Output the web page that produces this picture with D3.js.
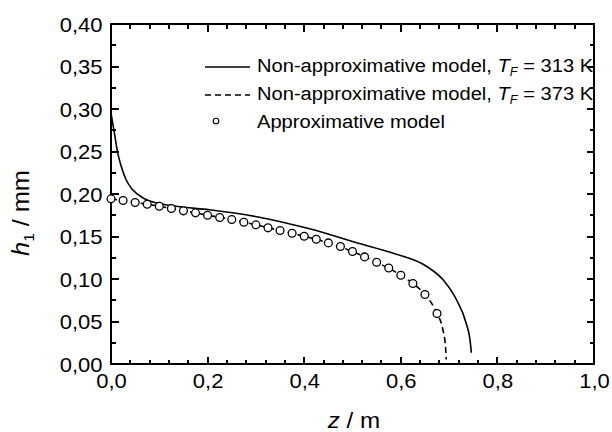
<!DOCTYPE html>
<html>
<head>
<meta charset="utf-8">
<script src="https://cdn.jsdelivr.net/npm/d3@7"></script>
<style>
body { margin: 0; background: #fff; }
text { font-family: "Liberation Sans", Arial, Helvetica, sans-serif; fill: #000; }
</style>
</head>
<body>
<script>
var width = 612,
    height = 432,
    x0 = 111, x1 = 594,
    y0 = 364, y1 = 24,
    sx = 1.1;   // the original lettering is a bit wide

// non-approximative model, T_F = 313 K
var solidZ = [0, 0.007, 0.014, 0.021, 0.031, 0.045, 0.066, 0.094, 0.135, 0.204, 0.307, 0.411, 0.514, 0.583, 0.653, 0.687, 0.715, 0.735, 0.744, 0.746];
var solidH = [0.295, 0.272, 0.248, 0.233, 0.217, 0.205, 0.1955, 0.1896, 0.1855, 0.1815, 0.1727, 0.1590, 0.1418, 0.1305, 0.115, 0.0994, 0.0759, 0.0485, 0.0249, 0.0132];

// non-approximative model, T_F = 373 K
var dashZ = [0, 0.05, 0.1, 0.15, 0.2, 0.25, 0.3, 0.35, 0.4, 0.45, 0.5, 0.55, 0.6, 0.625, 0.65, 0.675, 0.687, 0.6925, 0.694];
var dashH = [0.1943, 0.190, 0.1856, 0.1802, 0.175, 0.170, 0.1637, 0.157, 0.1503, 0.1425, 0.1323, 0.1197, 0.1045, 0.0947, 0.0817, 0.0594, 0.0406, 0.021, 0.0053];

// approximative model
var approxZ = [0, 0.025, 0.05, 0.075, 0.1, 0.125, 0.15, 0.175, 0.2, 0.225, 0.25, 0.275, 0.3, 0.325,
               0.35, 0.375, 0.4, 0.425, 0.45, 0.475, 0.5, 0.525, 0.55, 0.575, 0.6, 0.625, 0.65, 0.675];
var approxH = [0.1943, 0.1923, 0.190, 0.188, 0.1856, 0.1829, 0.1802, 0.1778, 0.175, 0.1723, 0.170, 0.1668, 0.1637, 0.1602,
               0.157, 0.1539, 0.1503, 0.1468, 0.1425, 0.1382, 0.1323, 0.126, 0.1197, 0.113, 0.1045, 0.0947, 0.0817, 0.0594];

var xTicks = [0, 0.2, 0.4, 0.6, 0.8, 1.0],
    yTicks = [0, 0.05, 0.10, 0.15, 0.20, 0.25, 0.30, 0.35, 0.40];

var comma = d3.formatLocale({decimal: ",", thousands: ".", grouping: [3], currency: ["", ""]});

var x = d3.scaleLinear().domain([0, 1]).range([x0, x1]),
    y = d3.scaleLinear().domain([0, 0.4]).range([y0, y1]);

var svg = d3.select("body").append("svg")
    .attr("width", width)
    .attr("height", height);

// tick labels from d3 axes (marks are drawn below)
var bx = svg.append("g")
    .attr("transform", "translate(0," + y0 + ")")
    .call(d3.axisBottom(x).tickValues(xTicks).tickSize(0).tickFormat(comma.format(".1f")));
var ly = svg.append("g")
    .attr("transform", "translate(" + x0 + ",0)")
    .call(d3.axisLeft(y).tickValues(yTicks).tickSize(0).tickFormat(comma.format(".2f")));
bx.select(".domain").remove();
ly.select(".domain").remove();

bx.selectAll("text")
    .attr("font-size", 20)
    .attr("font-family", null)
    .attr("y", 24)
    .attr("dy", null)
    .attr("transform", "scale(" + sx + ",1)");

ly.selectAll("text")
    .attr("font-size", 20)
    .attr("font-family", null)
    .attr("x", -8.5 / sx)
    .attr("dy", 7)
    .attr("transform", "scale(" + sx + ",1)");

// inward tick marks on all four sides
var xMinor = d3.range(0, 1.001, 0.04),
    yMinor = d3.range(0.025, 0.4, 0.05);

function xMarks(vals, len) {
    [[y0, -1], [y1, 1]].forEach(function(s) {
        svg.append("g").selectAll("line")
            .data(vals)
            .enter().append("line")
            .attr("x1", function(d) { return Math.round(x(d)); })
            .attr("x2", function(d) { return Math.round(x(d)); })
            .attr("y1", s[0])
            .attr("y2", s[0] + s[1] * len)
            .attr("stroke", "#000")
            .attr("stroke-width", 2)
            .attr("shape-rendering", "crispEdges");
    });
}
function yMarks(vals, len) {
    [[x0, 1], [x1, -1]].forEach(function(s) {
        svg.append("g").selectAll("line")
            .data(vals)
            .enter().append("line")
            .attr("y1", function(d) { return Math.round(y(d)); })
            .attr("y2", function(d) { return Math.round(y(d)); })
            .attr("x1", s[0])
            .attr("x2", s[0] + s[1] * len)
            .attr("stroke", "#000")
            .attr("stroke-width", 2)
            .attr("shape-rendering", "crispEdges");
    });
}
xMarks(xMinor, 4.5);
xMarks(xTicks, 7.5);
yMarks(yMinor, 4.5);
yMarks(yTicks, 7.5);

// frame
svg.append("rect")
    .attr("x", x0).attr("y", y1)
    .attr("width", x1 - x0).attr("height", y0 - y1)
    .attr("fill", "none")
    .attr("stroke", "#000")
    .attr("stroke-width", 2)
    .attr("shape-rendering", "crispEdges");

// curves
var line = d3.line()
    .x(function(d) { return x(d[0]); })
    .y(function(d) { return y(d[1]); })
    .curve(d3.curveMonotoneX);

svg.append("path")
    .attr("d", line(d3.zip(solidZ, solidH)))
    .attr("fill", "none")
    .attr("stroke", "#000")
    .attr("stroke-width", 1.6);

svg.append("path")
    .attr("d", line(d3.zip(dashZ, dashH)))
    .attr("fill", "none")
    .attr("stroke", "#000")
    .attr("stroke-width", 1.6)
    .attr("stroke-dasharray", "6,4");

svg.append("g").selectAll("circle")
    .data(d3.zip(approxZ, approxH))
    .enter().append("circle")
    .attr("cx", function(d) { return x(d[0]); })
    .attr("cy", function(d) { return y(d[1]); })
    .attr("r", 3.9)
    .attr("fill", "#fff")
    .attr("stroke", "#000")
    .attr("stroke-width", 1.3);

// text helper, stretched horizontally around its anchor
function label(px, py, size, anchor, rot, s) {
    return svg.append("text")
        .attr("transform", "translate(" + px + "," + py + ")" + (rot ? " rotate(" + rot + ")" : "") + " scale(" + s + ",1)")
        .attr("font-size", size)
        .attr("text-anchor", anchor);
}

// axis titles
var xt = label(354, 428, 22, "middle", 0, sx);
xt.append("tspan").attr("font-style", "italic").text("z");
xt.append("tspan").text(" / m");

var yt = label(29, 213, 23, "middle", -90, sx);
yt.append("tspan").attr("font-style", "italic").text("h");
yt.append("tspan").attr("font-size", 14).attr("dy", 5).text("1");
yt.append("tspan").attr("dy", -5).text(" / mm");

// legend
var lx = 205, lw = 45, lt = 257;
svg.append("line").attr("x1", lx).attr("x2", lx + lw).attr("y1", 67).attr("y2", 67)
    .attr("stroke", "#000").attr("stroke-width", 1.5);
svg.append("line").attr("x1", lx).attr("x2", lx + lw).attr("y1", 95).attr("y2", 95)
    .attr("stroke", "#000").attr("stroke-width", 1.5).attr("stroke-dasharray", "6,4");
svg.append("circle").attr("cx", 216).attr("cy", 121).attr("r", 2.8)
    .attr("fill", "#fff").attr("stroke", "#000").attr("stroke-width", 1.1);

function tfLabel(py, kelvin) {
    var t = label(lt, py, 19, "start", 0, 1.06);
    t.append("tspan").text("Non-approximative model, ");
    t.append("tspan").attr("font-style", "italic").text("T");
    t.append("tspan").attr("font-style", "italic").attr("font-size", 12).attr("dy", 4).text("F");
    t.append("tspan").attr("dy", -4).text(" = " + kelvin + " K");
}
tfLabel(72, 313);
tfLabel(100, 373);
label(lt, 127.5, 19, "start", 0, 1.06).text("Approximative model");
</script>
</body>
</html>
